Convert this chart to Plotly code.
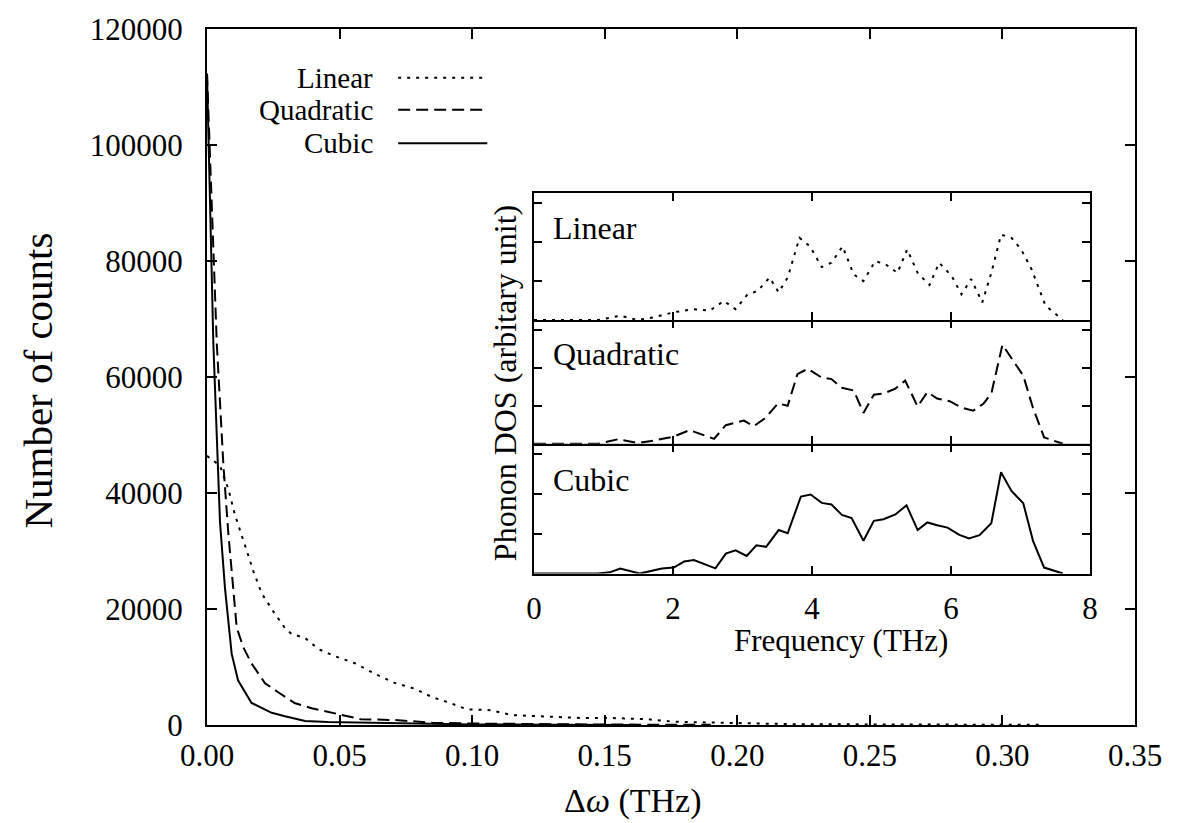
import plotly.graph_objects as go

# ---------------- main histogram data ----------------
dw_linear = [0, 0.0025, 0.0049, 0.0068, 0.0081, 0.0105, 0.0124, 0.0143, 0.0175, 0.0206,
             0.025, 0.0294, 0.0319, 0.037, 0.042, 0.048, 0.056, 0.063, 0.0705, 0.078,
             0.085, 0.092, 0.098, 0.107, 0.115, 0.128, 0.141, 0.153, 0.166, 0.176,
             0.19, 0.20, 0.22, 0.25, 0.28, 0.315]
cnt_linear = [46400, 45600, 44700, 42300, 40600, 36300, 33800, 31000, 26500, 22700,
              19600, 16700, 15700, 15000, 13100, 11900, 10600, 8900, 7300, 6300,
              4800, 3750, 2700, 2560, 1700, 1400, 1200, 1200, 1000, 560,
              400, 250, 150, 100, 60, 30]

dw_quad = [0, 0.0037, 0.0062, 0.008, 0.0112, 0.0137, 0.0168, 0.0219, 0.027, 0.033,
           0.0395, 0.048, 0.058, 0.071, 0.085, 0.10, 0.12, 0.15, 0.19]
cnt_quad = [112300, 65700, 44700, 33300, 16800, 13400, 10600, 7200, 5600, 3800,
            2900, 2000, 1000, 850, 400, 250, 150, 80, 30]

dw_cubic = [0, 0.0024, 0.0049, 0.0068, 0.0093, 0.0117, 0.0168, 0.0244, 0.0294, 0.037,
            0.0456, 0.071, 0.10, 0.13, 0.16]
cnt_cubic = [112300, 65700, 35000, 23500, 12300, 7700, 3800, 2100, 1500, 700,
             500, 300, 100, 50, 20]

# ---------------- inset phonon DOS data ----------------
f_linear = [0, 0.6, 0.92, 1.24, 1.49, 1.72, 2.01, 2.30, 2.53, 2.73,
            2.90, 3.07, 3.22, 3.39, 3.52, 3.65, 3.82, 3.97, 4.14, 4.28,
            4.44, 4.60, 4.74, 4.91, 5.06, 5.23, 5.37, 5.52, 5.69, 5.83,
            6.01, 6.15, 6.29, 6.45, 6.58, 6.72, 6.87, 7.01, 7.16, 7.36, 7.61]
dos_linear = [0, 0, 0, 0.11, 0, 0.07, 0.2, 0.28, 0.24, 0.49,
              0.28, 0.65, 0.75, 1.09, 0.71, 1.09, 2.11, 1.89, 1.36, 1.47,
              1.89, 1.17, 1.0, 1.51, 1.43, 1.21, 1.81, 1.21, 0.90, 1.47,
              1.13, 0.66, 1.05, 0.45, 1.21, 2.19, 2.11, 1.81, 1.30, 0.37, 0]

f_quad = [0, 0.92, 1.21, 1.49, 1.72, 2.01, 2.24, 2.59, 2.76, 3.02,
          3.16, 3.33, 3.51, 3.65, 3.79, 3.94, 4.14, 4.28, 4.43, 4.60,
          4.74, 4.89, 5.03, 5.20, 5.34, 5.52, 5.66, 5.80, 5.98, 6.15,
          6.32, 6.47, 6.58, 6.74, 6.90, 7.04, 7.18, 7.34, 7.61]
dos_quad = [0, 0, 0.12, 0.02, 0.085, 0.19, 0.36, 0.13, 0.49, 0.61,
            0.46, 0.68, 1.06, 1.0, 1.83, 1.97, 1.74, 1.70, 1.47, 1.40,
            0.81, 1.29, 1.32, 1.45, 1.66, 0.98, 1.36, 1.19, 1.12, 0.95,
            0.87, 1.06, 1.32, 2.60, 2.17, 1.79, 0.94, 0.17, 0]

f_cubic = [0, 0.60, 0.92, 1.09, 1.24, 1.52, 1.84, 2.01, 2.16, 2.30,
           2.61, 2.76, 2.90, 3.06, 3.20, 3.34, 3.52, 3.65, 3.84, 3.98,
           4.14, 4.28, 4.43, 4.57, 4.74, 4.89, 5.03, 5.20, 5.36, 5.52,
           5.66, 5.80, 5.95, 6.12, 6.26, 6.41, 6.58, 6.72, 6.87, 7.04,
           7.18, 7.34, 7.61]
dos_cubic = [0, 0.01, 0, 0.03, 0.125, 0, 0.125, 0.15, 0.30, 0.34,
             0.13, 0.50, 0.58, 0.44, 0.71, 0.67, 1.09, 1.01, 1.93, 1.98,
             1.77, 1.73, 1.47, 1.39, 0.82, 1.32, 1.36, 1.48, 1.71, 1.09,
             1.28, 1.21, 1.15, 0.97, 0.88, 0.96, 1.26, 2.54, 2.07, 1.76,
             0.82, 0.15, 0]

main_xticks = [0, 0.05, 0.10, 0.15, 0.20, 0.25, 0.30, 0.35]
main_yticks = [0, 20000, 40000, 60000, 80000, 100000, 120000]
inset_xticks = [0, 2, 4, 6, 8]
inset_yticks = [1, 2, 3]
series_names = ["Linear", "Quadratic", "Cubic"]

FONT = "Liberation Serif, Tinos, Times New Roman, DejaVu Serif, serif"
DOT = "3px,6px"
DASH = "12px,6px"

fig = go.Figure()

styles = [DOT, DASH, "solid"]
for name, xs, ys, dash in zip(series_names, [dw_linear, dw_quad, dw_cubic],
                              [cnt_linear, cnt_quad, cnt_cubic], styles):
    fig.add_trace(go.Scatter(x=xs, y=ys, mode="lines", name=name,
                             line=dict(color="black", width=2, dash=dash),
                             xaxis="x", yaxis="y", showlegend=False))

panels = [("x4", "y4", f_linear, dos_linear, DOT),
          ("x3", "y3", f_quad, dos_quad, DASH),
          ("x2", "y2", f_cubic, dos_cubic, "solid")]
for xa, ya, xs, ys, dash in panels:
    fig.add_trace(go.Scatter(x=xs, y=ys, mode="lines",
                             line=dict(color="black", width=2, dash=dash),
                             xaxis=xa, yaxis=ya, showlegend=False))

axis_common = dict(showgrid=False, zeroline=False, showline=True, linecolor="black",
                   linewidth=2, mirror="allticks", ticks="inside", tickcolor="black",
                   tickwidth=1.5, color="black")

ix0, ix1 = 0.3524, 0.9515
py = [0.2176, 0.404, 0.5818, 0.7639]

layout = dict(
    width=1180, height=823,
    margin=dict(l=207, r=45, t=22, b=98),
    paper_bgcolor="white", plot_bgcolor="white",
    font=dict(family=FONT, size=31, color="black"),
    showlegend=False,
    xaxis=dict(**axis_common, range=[0, 0.35], tickvals=main_xticks,
               ticktext=[f"{v:.2f}" for v in main_xticks], ticklen=10,
               ticklabelstandoff=2, tickfont=dict(family=FONT, size=31), domain=[0, 1]),
    yaxis=dict(**axis_common, range=[0, 120000], tickvals=main_yticks,
               ticktext=[str(v) for v in main_yticks], ticklen=10,
               ticklabelstandoff=16, tickfont=dict(family=FONT, size=31), domain=[0, 1]),
)

for i, (xa, ya) in enumerate([("xaxis2", "yaxis2"), ("xaxis3", "yaxis3"), ("xaxis4", "yaxis4")]):
    anchor_y = "y" + str(i + 2)
    anchor_x = "x" + str(i + 2)
    layout[xa] = dict(**axis_common, range=[0, 8], tickvals=inset_xticks,
                      ticklen=8, domain=[ix0, ix1], anchor=anchor_y,
                      showticklabels=(i == 0), tickfont=dict(family=FONT, size=31),
                      ticklabelstandoff=6)
    layout[ya] = dict(**axis_common, range=[0, 3.25], tickvals=inset_yticks,
                      ticklen=8, domain=[py[i], py[i + 1]], anchor=anchor_x,
                      showticklabels=False)

fig.update_layout(**layout)

ann = []
ann.append(dict(text="Δ<i>ω</i> (THz)", x=0.458, y=-0.109, xref="paper", yref="paper",
                showarrow=False, font=dict(family=FONT, size=34), xanchor="center",
                yanchor="middle"))
ann.append(dict(text="Number of counts", x=-0.182, y=0.495, xref="paper", yref="paper",
                showarrow=False, textangle=-90, font=dict(family=FONT, size=41),
                xanchor="center", yanchor="middle"))
ann.append(dict(text="Frequency (THz)", x=0.683, y=0.1215, xref="paper", yref="paper",
                showarrow=False, font=dict(family=FONT, size=31), xanchor="center",
                yanchor="middle"))
ann.append(dict(text="Phonon DOS (arbitary unit)", x=0.321, y=0.491, xref="paper",
                yref="paper", showarrow=False, textangle=-90,
                font=dict(family=FONT, size=32), xanchor="center", yanchor="middle"))
for (xa, ya, *_), name in zip(panels, series_names):
    ann.append(dict(text=name, x=0.25, y=2.35, xref=xa, yref=ya, showarrow=False,
                    font=dict(family=FONT, size=32), xanchor="left", yanchor="middle"))

key_y = [0.930, 0.884, 0.836]
shapes = []
for name, yk, dash in zip(series_names, key_y, styles):
    ann.append(dict(text=name, x=0.181, y=yk, xref="paper", yref="paper",
                    showarrow=False, font=dict(family=FONT, size=29), xanchor="right",
                    yanchor="middle"))
    shapes.append(dict(type="line", xref="paper", yref="paper", x0=0.206, x1=0.302,
                       y0=yk, y1=yk, line=dict(color="black", width=2, dash=dash)))

fig.update_layout(annotations=ann, shapes=shapes)
fig.write_html("out.html")
